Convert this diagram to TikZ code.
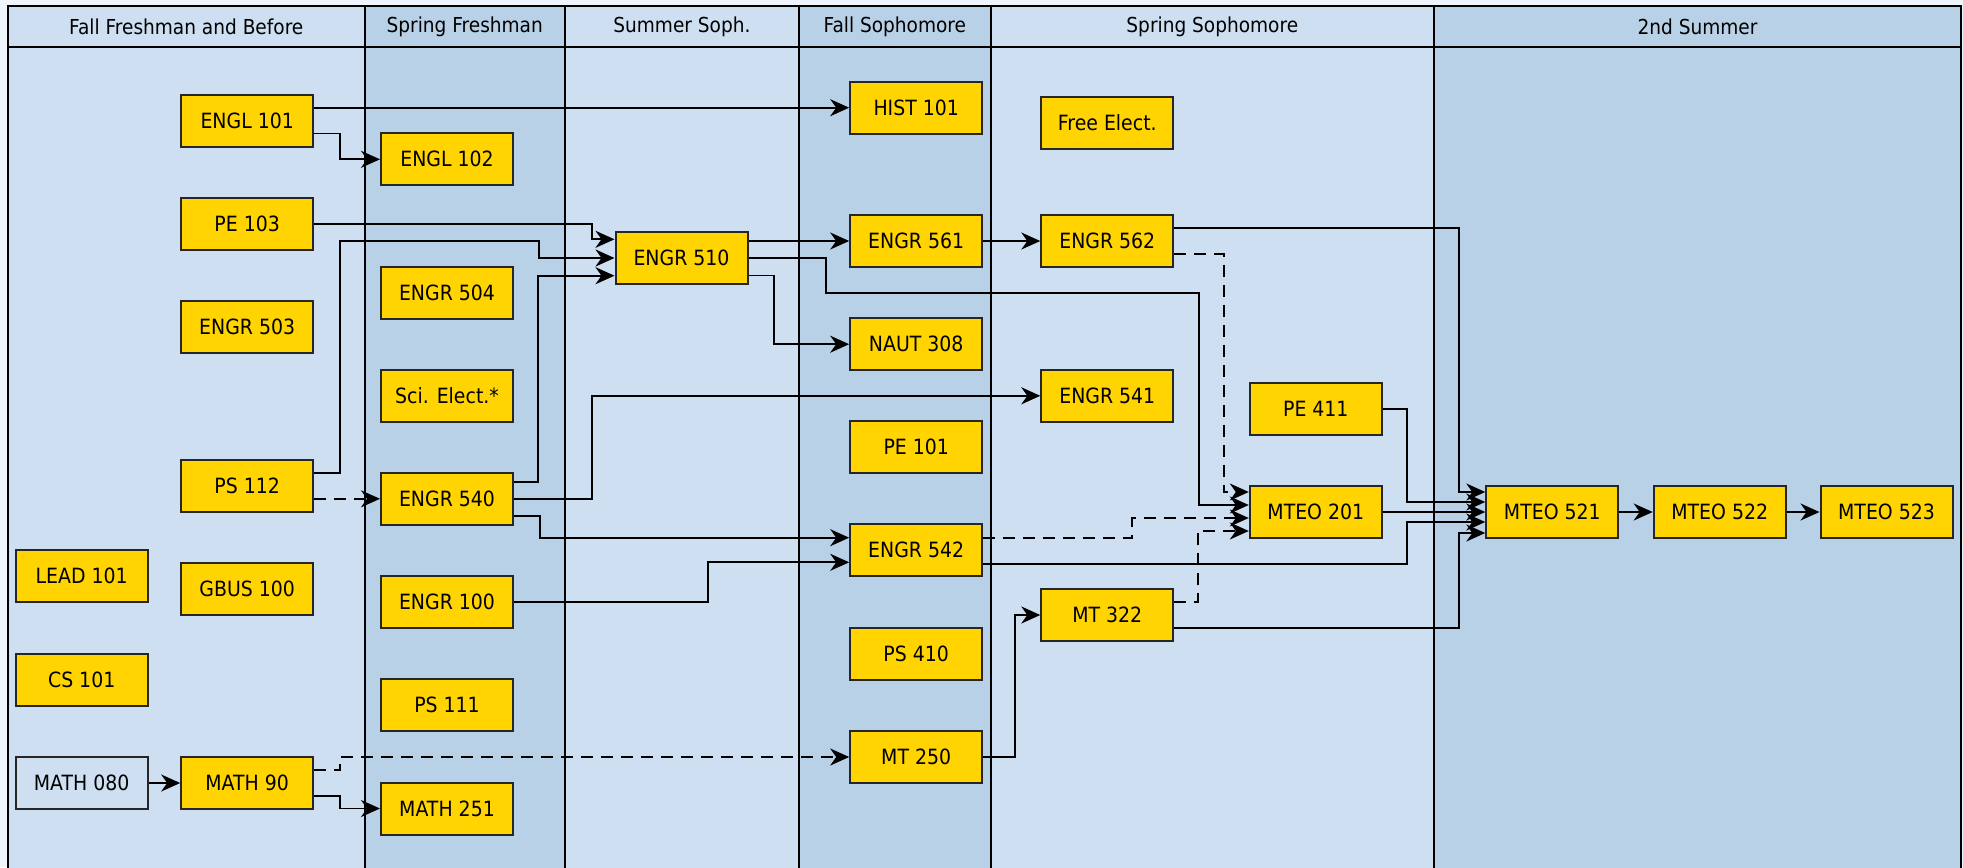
\documentclass[tikz,border=0pt]{standalone}
\usepackage{fontspec}
\setmainfont{DejaVu Sans}[FakeStretch=0.9]
\usetikzlibrary{arrows.meta,calc}
\definecolor{laneA}{HTML}{CEDFF1}
\definecolor{laneB}{HTML}{B9D1E7}
\definecolor{bgc}{HTML}{EEF5FC}
\definecolor{gold}{HTML}{FFD400}
\begin{document}
\begin{tikzpicture}[x=0.5pt,y=-0.5pt,
  course/.style={draw=black!85, line width=1pt, fill=gold, minimum width=66pt, minimum height=26pt, inner sep=0pt, font=\fontsize{10.5}{12}\selectfont},
  plaincourse/.style={course, fill=none},
  hdr/.style={font=\fontsize{10.3}{12}\selectfont, inner sep=0pt},
  arr/.style={draw=black, line width=0.9pt, -{Stealth[length=9.5pt,width=8.5pt,inset=3pt]}},
  darr/.style={arr, dash pattern=on 6pt off 4pt},
  lanediv/.style={draw=black, line width=1.1pt}
]
\useasboundingbox (0,0) rectangle (1963,867);
\fill[bgc] (0,0) rectangle (1963,867);
% lanes
\fill[laneA] (7.6,6) rectangle (364.7,870);
\fill[laneB] (364.7,6) rectangle (564.7,870);
\fill[laneA] (564.7,6) rectangle (799,870);
\fill[laneB] (799,6) rectangle (990.6,870);
\fill[laneA] (990.6,6) rectangle (1434,870);
\fill[laneB] (1434,6) rectangle (1961,870);
\draw[lanediv] (7.6,870) -- (7.6,6) -- (1961,6) -- (1961,870);
\draw[lanediv] (7.6,47.3) -- (1961,47.3);
\foreach \x in {364.7,564.7,799,990.6,1434} \draw[lanediv] (\x,6) -- (\x,870);
% headers
\node[hdr] (h1) at (186.2,26.7) {Fall Freshman and Before};
\node[hdr] (h2) at (464.7,26.7) {Spring Freshman};
\node[hdr] (h3) at (681.9,26.7) {Summer Soph.};
\node[hdr] (h4) at (894.8,26.7) {Fall Sophomore};
\node[hdr] (h5) at (1212.3,26.7) {Spring Sophomore};
\node[hdr] (h6) at (1697.5,26.7) {2nd Summer};
% column 0
\node[course] (LEAD101) at (81.7,576) {LEAD 101};
\node[course] (CS101) at (81.7,679.7) {CS 101};
\node[plaincourse] (MATH080) at (81.7,783) {MATH 080};
% column A
\node[course] (ENGL101) at (247.2,120.5) {ENGL 101};
\node[course] (PE103) at (247.2,223.8) {PE 103};
\node[course] (ENGR503) at (247.2,326.8) {ENGR 503};
\node[course] (PS112) at (247.2,486.2) {PS 112};
\node[course] (GBUS100) at (247.2,589) {GBUS 100};
\node[course] (MATH90) at (247.2,783) {MATH 90};
% column B
\node[course] (ENGL102) at (447,159.3) {ENGL 102};
\node[course] (ENGR504) at (447,292.7) {ENGR 504};
\node[course] (SCIEL) at (447,395.8) {Sci. Elect.*};
\node[course] (ENGR540) at (447,498.8) {ENGR 540};
\node[course] (ENGR100) at (447,602) {ENGR 100};
\node[course] (PS111) at (447,705.2) {PS 111};
\node[course] (MATH251) at (447,808.5) {MATH 251};
% column C
\node[course] (ENGR510) at (681.5,258) {ENGR 510};
% column D
\node[course] (HIST101) at (916.2,107.7) {HIST 101};
\node[course] (ENGR561) at (916.2,241) {ENGR 561};
\node[course] (NAUT308) at (916.2,344.2) {NAUT 308};
\node[course] (PE101) at (916.2,447.3) {PE 101};
\node[course] (ENGR542) at (916.2,550.3) {ENGR 542};
\node[course] (PS410) at (916.2,653.7) {PS 410};
\node[course] (MT250) at (916.2,757) {MT 250};
% column E
\node[course] (FREEEL) at (1107.3,122.7) {Free Elect.};
\node[course] (ENGR562) at (1107.3,241) {ENGR 562};
\node[course] (ENGR541) at (1107.3,395.8) {ENGR 541};
\node[course] (MT322) at (1107.3,615) {MT 322};
% column F
\node[course] (PE411) at (1315.8,408.7) {PE 411};
\node[course] (MTEO201) at (1315.8,512) {MTEO 201};
% summer
\node[course] (MTEO521) at (1552.3,512) {MTEO 521};
\node[course] (MTEO522) at (1719.7,512) {MTEO 522};
\node[course] (MTEO523) at (1886.5,512) {MTEO 523};
% connectors
\draw[arr] (ENGL101.east |- HIST101.west) -- (HIST101.west);
\draw[arr] ($(ENGL101.east)+(0,13)$) -- ++(26,0) |- (ENGL102.west);
\draw[arr] (PE103.east) -- ++(277.6,0) |- ($(ENGR510.west)+(0,-18.7)$);
\draw[arr] ($(PS112.east)+(0,-13)$) -- ++(26,0) |- (538.8,240.7) |- (ENGR510.west);
\draw[darr] (PS112.east |- ENGR540.west) -- (ENGR540.west);
\draw[arr] ($(ENGR540.east)+(0,-17)$) -| ($(ENGR510.west)+(-76.8,17.7)$) -- ($(ENGR510.west)+(0,17.7)$);
\draw[arr] (ENGR540.east) -- ++(77.6,0) |- (ENGR541.west);
\draw[arr] ($(ENGR540.east)+(0,17.5)$) -- ++(25.8,0) |- ($(ENGR542.west)+(0,-12.6)$);
\draw[arr] (ENGR100.east) -- ++(194,0) |- ($(ENGR542.west)+(0,12)$);
\draw[arr] (MATH080) -- (MATH90);
\draw[darr] ($(MATH90.east)+(0,-13)$) -- ++(26,0) |- (MT250.west);
\draw[arr] ($(MATH90.east)+(0,13)$) -- ++(26,0) |- (MATH251.west);
\draw[arr] (ENGR510.east |- ENGR561.west) -- (ENGR561.west);
\draw[arr] (ENGR510.east) -- ++(77.3,0) |- (1198.7,292.7) |- ($(MTEO201.west)+(0,-7)$);
\draw[arr] ($(ENGR510.east)+(0,17.5)$) -- ++(25.5,0) |- (NAUT308.west);
\draw[arr] (ENGR561) -- (ENGR562);
\draw[arr] ($(ENGR562.east)+(0,-12.7)$) -| ($(MTEO521.west)+(-26,-20)$) -- ($(MTEO521.west)+(0,-20)$);
\draw[darr] ($(ENGR562.east)+(0,13)$) -| ($(MTEO201.west)+(-25,-20)$) -- ($(MTEO201.west)+(0,-20)$);
\draw[darr] ($(ENGR542.east)+(0,-12.6)$) -| ($(MTEO201.west)+(-116.8,6)$) -- ($(MTEO201.west)+(0,6)$);
\draw[arr] ($(ENGR542.east)+(0,13.4)$) -| ($(MTEO521.west)+(-78,10)$) -- ($(MTEO521.west)+(0,10)$);
\draw[arr] (PE411.east) -| ($(MTEO521.west)+(-78,-10)$) -- ($(MTEO521.west)+(0,-10)$);
\draw[arr] (MTEO201) -- (MTEO521);
\draw[arr] (MT250.east) -| ($(MT322.west)+(-25.3,0)$) -- (MT322.west);
\draw[darr] ($(MT322.east)+(0,-13)$) -| ($(MTEO201.west)+(-51.1,19)$) -- ($(MTEO201.west)+(0,19)$);
\draw[arr] ($(MT322.east)+(0,13)$) -| ($(MTEO521.west)+(-26,21)$) -- ($(MTEO521.west)+(0,21)$);
\draw[arr] (MTEO521) -- (MTEO522);
\draw[arr] (MTEO522) -- (MTEO523);
\end{tikzpicture}
\end{document}
